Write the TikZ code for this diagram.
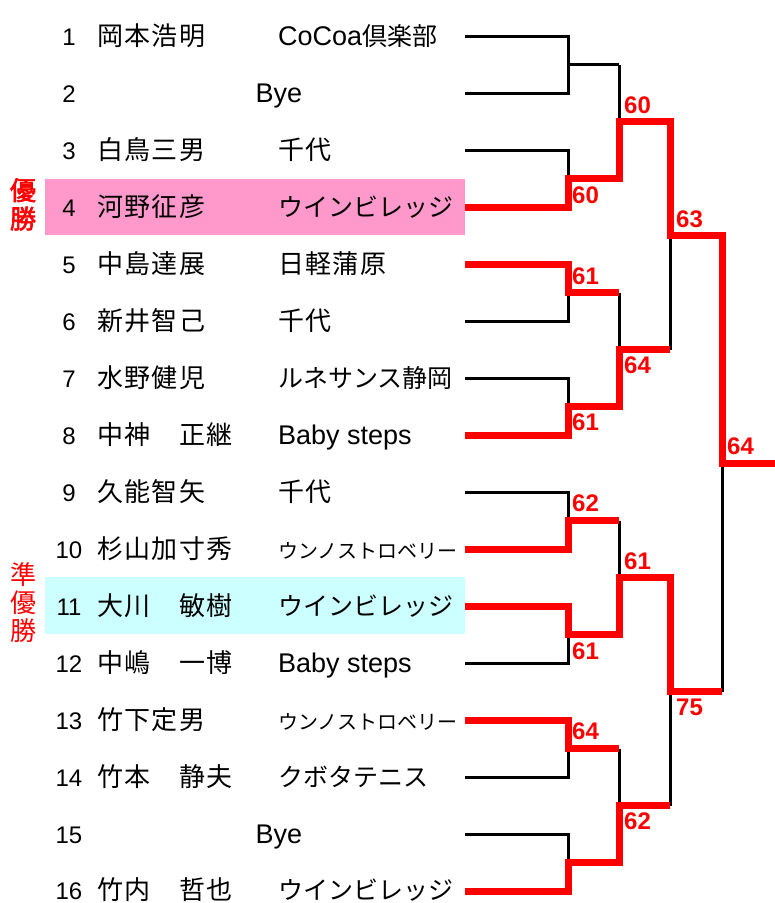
\documentclass[tikz,border=0pt]{standalone}
\usepackage{fontspec}
\setmainfont{Liberation Sans}
\newfontfamily\jpf{Noto Sans CJK JP}
\newfontfamily\jpw{Noto Sans CJK JP}[LetterSpace=5]
\newfontfamily\jpb{Noto Sans CJK JP}[FakeBold=2.5]
\newcommand\jk[1]{{\jpf\fontsize{25}{25}\selectfont #1}}
\newcommand\jw[1]{{\jpw\fontsize{26}{26}\selectfont #1}}
\newcommand\js[1]{{\jpf\fontsize{20}{20}\selectfont #1}}
\definecolor{winpink}{HTML}{FF99CC}
\definecolor{runcyan}{HTML}{CCFFFF}
\usetikzlibrary{positioning}

\begin{document}
\begin{tikzpicture}[x=1pt, y=-1pt,
    txt/.style={inner sep=0pt, text height=18pt, text depth=0pt},
    num/.style={txt, anchor=center, font=\fontsize{24}{24}\selectfont},
    pname/.style={txt, anchor=west, font=\jpw\fontsize{26}{26}\selectfont},
    club/.style={txt, anchor=west, font=\fontsize{27}{27}\selectfont},
    bye/.style={txt, anchor=center, font=\fontsize{27}{27}\selectfont},
    champ/.style={txt, anchor=center, text=red, font=\jpb\fontsize{26}{26}\selectfont},
    runner/.style={txt, anchor=center, text=red, font=\jpf\fontsize{26}{26}\selectfont},
    loss/.style={line width=3pt, black},
    win/.style={line width=7pt, red},
    score/.style={inner sep=0pt, anchor=west, text=red, font=\bfseries\fontsize{24}{24}\selectfont}]
    \useasboundingbox (0,0) rectangle (775,903);

    % Highlighted rows (winner, runner-up)
    \fill[winpink] (45,179) rectangle (465,235);
    \fill[runcyan] (45,577) rectangle (465,634);

    % Left labels
    \node[champ] (yu) at (23,191) {優};
    \node[champ, below=10pt of yu] (sho) {勝};
    \node[runner] (ju) at (23,575) {準};
    \node[runner, below=10pt of ju] (ryu) {優};
    \node[runner, below=10pt of ryu] (rsho) {勝};

    % Players
    \node[num] (n1) at (69,36) {1};
    \node[pname] (p1) at (97,36) {岡本浩明};
    \node[club] (c1) at (278,36) {CoCoa\jk{倶楽部}};
    \node[num] (n2) at (69,93) {2};
    \node[bye] (c2) at (279,93) {Bye};
    \node[num] (n3) at (69,150) {3};
    \node[pname] (p3) at (97,150) {白鳥三男};
    \node[club] (c3) at (278,150) {\jw{千代}};
    \node[num] (n4) at (69,207) {4};
    \node[pname] (p4) at (97,207) {河野征彦};
    \node[club] (c4) at (278,207) {\jk{ウインビレッジ}};
    \node[num] (n5) at (69,264) {5};
    \node[pname] (p5) at (97,264) {中島達展};
    \node[club] (c5) at (278,264) {\jw{日軽蒲原}};
    \node[num] (n6) at (69,321) {6};
    \node[pname] (p6) at (97,321) {新井智己};
    \node[club] (c6) at (278,321) {\jw{千代}};
    \node[num] (n7) at (69,378) {7};
    \node[pname] (p7) at (97,378) {水野健児};
    \node[club] (c7) at (278,378) {\jk{ルネサンス静岡}};
    \node[num] (n8) at (69,435) {8};
    \node[pname] (p8) at (97,435) {中神　正継};
    \node[club] (c8) at (278,435) {Baby steps};
    \node[num] (n9) at (69,492) {9};
    \node[pname] (p9) at (97,492) {久能智矢};
    \node[club] (c9) at (278,492) {\jw{千代}};
    \node[num] (n10) at (69,549) {10};
    \node[pname] (p10) at (97,549) {杉山加寸秀};
    \node[club] (c10) at (278,549) {\js{ウンノストロベリー}};
    \node[num] (n11) at (69,606) {11};
    \node[pname] (p11) at (97,606) {大川　敏樹};
    \node[club] (c11) at (278,606) {\jk{ウインビレッジ}};
    \node[num] (n12) at (69,663) {12};
    \node[pname] (p12) at (97,663) {中嶋　一博};
    \node[club] (c12) at (278,663) {Baby steps};
    \node[num] (n13) at (69,720) {13};
    \node[pname] (p13) at (97,720) {竹下定男};
    \node[club] (c13) at (278,720) {\js{ウンノストロベリー}};
    \node[num] (n14) at (69,777) {14};
    \node[pname] (p14) at (97,777) {竹本　静夫};
    \node[club] (c14) at (278,777) {\jk{クボタテニス}};
    \node[num] (n15) at (69,834) {15};
    \node[bye] (c15) at (279,834) {Bye};
    \node[num] (n16) at (69,890) {16};
    \node[pname] (p16) at (97,890) {竹内　哲也};
    \node[club] (c16) at (278,890) {\jk{ウインビレッジ}};

    % Bracket points
    \coordinate (r1) at (465,36);   \coordinate (r2) at (465,93);
    \coordinate (r3) at (465,150);  \coordinate (r4) at (465,207);
    \coordinate (r5) at (465,264);  \coordinate (r6) at (465,321);
    \coordinate (r7) at (465,378);  \coordinate (r8) at (465,435);
    \coordinate (r9) at (465,492);  \coordinate (r10) at (465,549);
    \coordinate (r11) at (465,606); \coordinate (r12) at (465,663);
    \coordinate (r13) at (465,720); \coordinate (r14) at (465,777);
    \coordinate (r15) at (465,834); \coordinate (r16) at (465,891);
    \coordinate (a1) at (568,64.5);  \coordinate (a2) at (568,178.5);
    \coordinate (a3) at (568,292.5); \coordinate (a4) at (568,406.5);
    \coordinate (a5) at (568,520.5); \coordinate (a6) at (568,634.5);
    \coordinate (a7) at (568,748.5); \coordinate (a8) at (568,862.5);
    \coordinate (b1) at (619,121.5); \coordinate (b2) at (619,349.5);
    \coordinate (b3) at (619,577.5); \coordinate (b4) at (619,805.5);
    \coordinate (s1) at (670,235.5); \coordinate (s2) at (670,691.5);
    \coordinate (f) at (722,463.5);
    \coordinate (fin) at (775,463.5);

    % First round
    \draw[loss] (r1) -| (a1) |- (r2) (a1) -- (a1 -| b1);
    \draw[loss] (r3) -| (a2) |- (r4) (a2) -- (a2 -| b1);
    \draw[loss] (r5) -| (a3) |- (r6) (a3) -- (a3 -| b2);
    \draw[loss] (r7) -| (a4) |- (r8) (a4) -- (a4 -| b2);
    \draw[loss] (r9) -| (a5) |- (r10) (a5) -- (a5 -| b3);
    \draw[loss] (r11) -| (a6) |- (r12) (a6) -- (a6 -| b3);
    \draw[loss] (r13) -| (a7) |- (r14) (a7) -- (a7 -| b4);
    \draw[loss] (r15) -| (a8) |- (r16) (a8) -- (a8 -| b4);
    % Later rounds
    \draw[loss] (a1 -| b1) -- (a2 -| b1) (b1) -- (b1 -| s1);
    \draw[loss] (a3 -| b2) -- (a4 -| b2) (b2) -- (b2 -| s1);
    \draw[loss] (a5 -| b3) -- (a6 -| b3) (b3) -- (b3 -| s2);
    \draw[loss] (a7 -| b4) -- (a8 -| b4) (b4) -- (b4 -| s2);
    \draw[loss] (b1 -| s1) -- (b2 -| s1) (s1) -- (s1 -| f);
    \draw[loss] (b3 -| s2) -- (b4 -| s2) (s2) -- (s2 -| f);
    \draw[loss] (s1 -| f) -- (s2 -| f);

    % Winners
    \draw[win] (r4) -| (a2) -| (b1) -| (s1) -| (f) -- (fin);
    \draw[win] (r5) -| (a3) -- (a3 -| b2);
    \draw[win] (r8) -| (a4) -| (b2) -- (b2 -| s1);
    \draw[win] (r10) -| (a5) -- (a5 -| b3);
    \draw[win] (r11) -| (a6) -| (b3) -| (s2) -- (s2 -| f);
    \draw[win] (r13) -| (a7) -- (a7 -| b4);
    \draw[win] (r16) -| (a8) -| (b4) -- (b4 -| s2);

    % Scores
    \node[score] (sc1) at (572,195) {60};
    \node[score] (sc2) at (572,276) {61};
    \node[score] (sc3) at (572,422) {61};
    \node[score] (sc4) at (572,503) {62};
    \node[score] (sc5) at (572,651) {61};
    \node[score] (sc6) at (572,731) {64};
    \node[score] (sc7) at (624,105) {60};
    \node[score] (sc8) at (624,365) {64};
    \node[score] (sc9) at (624,561) {61};
    \node[score] (sc10) at (624,821) {62};
    \node[score] (sc11) at (676,219) {63};
    \node[score] (sc12) at (676,707) {75};
    \node[score] (sc13) at (727,446) {64};
\end{tikzpicture}
\end{document}
